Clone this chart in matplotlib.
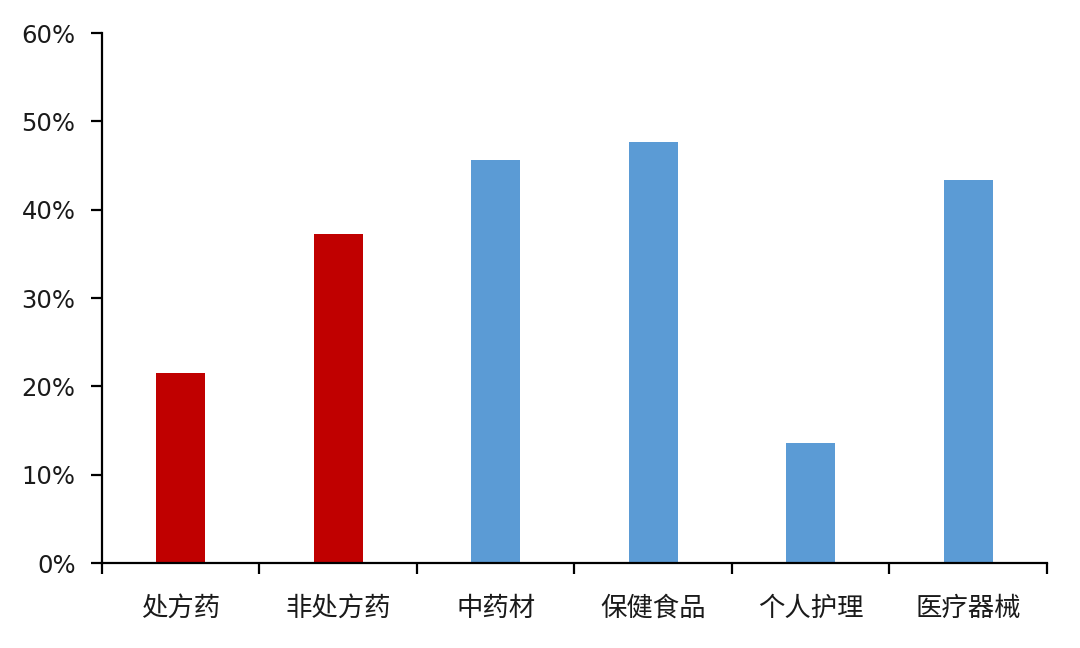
import matplotlib
matplotlib.use("Agg")
import matplotlib.pyplot as plt
from matplotlib.ticker import FuncFormatter, FixedLocator

plt.rcParams['font.family'] = ['Noto Sans CJK SC', 'DejaVu Sans']

# data
categories = ['处方药', '非处方药', '中药材', '保健食品', '个人护理', '医疗器械']
values = [21.5, 37.3, 45.6, 47.7, 13.6, 43.4]
colors = ['#C00000', '#C00000', '#5B9BD5', '#5B9BD5', '#5B9BD5', '#5B9BD5']

fig = plt.figure(figsize=(10.8, 6.48), dpi=100)
ax = fig.add_axes([0.0944, 0.131, 0.875, 0.818])

x = list(range(len(categories)))
ax.bar(x, values, width=0.31, color=colors)

ax.set_xlim(-0.5, len(categories) - 0.5)
ax.set_ylim(0, 60)
ax.set_yticks(range(0, 61, 10))
ax.yaxis.set_major_formatter(FuncFormatter(lambda v, p: '%d%%' % v))

# category labels centered, tick marks at boundaries
ax.set_xticks(x)
ax.set_xticklabels(categories)
ax.xaxis.set_minor_locator(FixedLocator([i - 0.5 for i in range(len(categories) + 1)]))
ax.tick_params(axis='x', which='major', length=0, pad=23, labelsize=19, colors='#1a1a1a')
ax.tick_params(axis='x', which='minor', length=8, width=1.6, direction='out')
ax.tick_params(axis='y', length=8, width=1.6, direction='out', labelsize=17.5, colors='#1a1a1a', pad=11)
ax.tick_params(axis='both', color='black')
for lbl in ax.get_yticklabels():
    lbl.set_family('DejaVu Sans')

for s in ['top', 'right']:
    ax.spines[s].set_visible(False)
for s in ['left', 'bottom']:
    ax.spines[s].set_linewidth(1.6)

fig.savefig('out.png', dpi=100)
